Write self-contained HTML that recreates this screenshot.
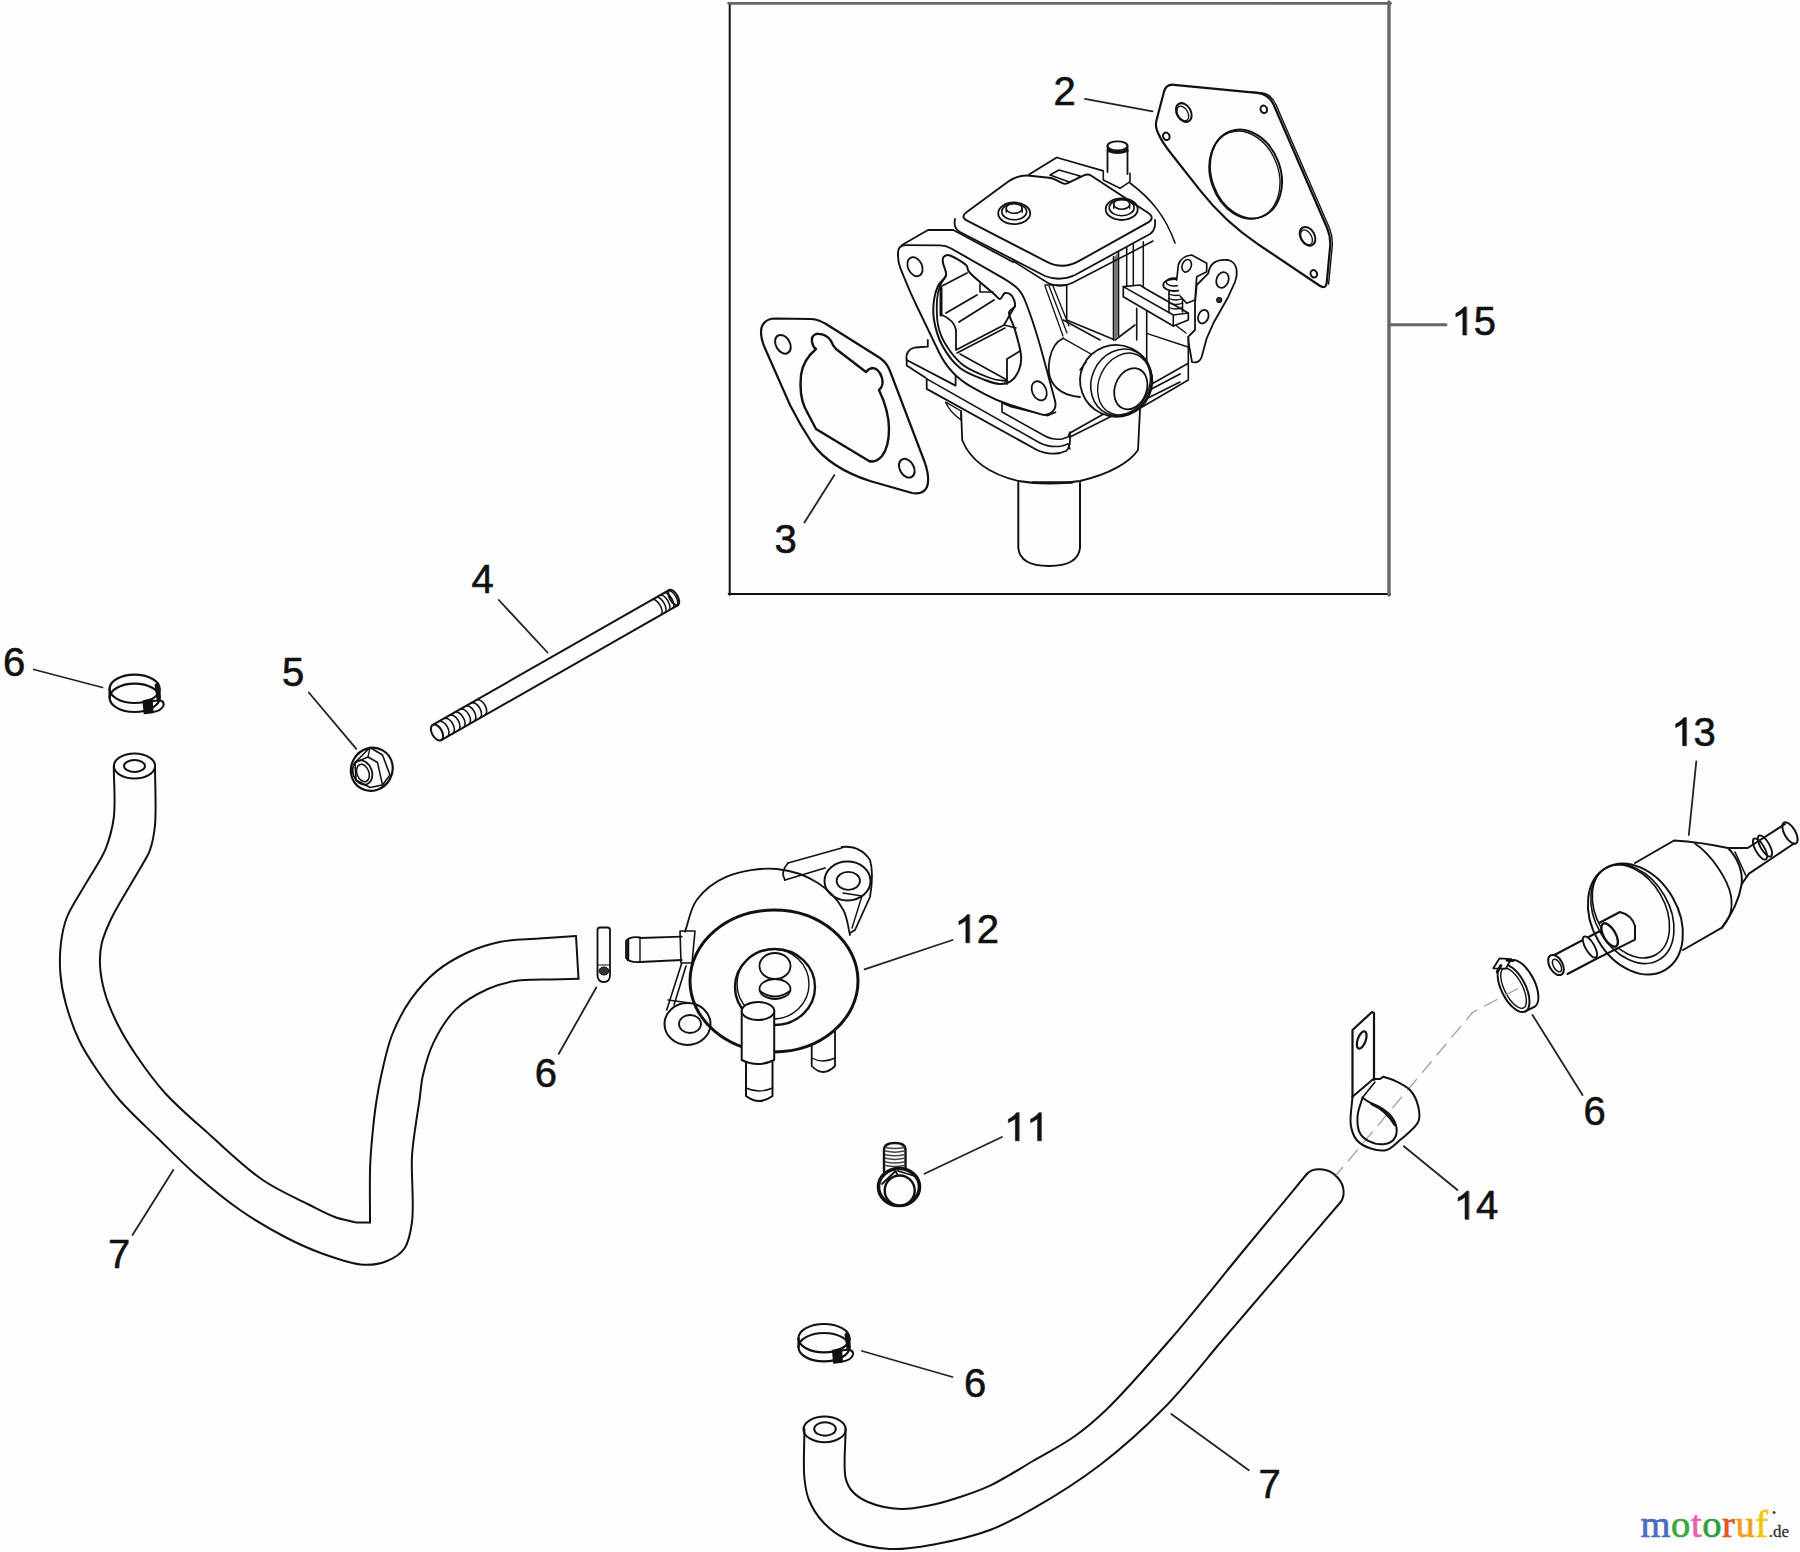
<!DOCTYPE html>
<html><head><meta charset="utf-8">
<style>
html,body{margin:0;padding:0;background:#fdfdfd;}
#c{position:relative;width:1800px;height:1552px;overflow:hidden;background:#fdfdfd;}
svg{position:absolute;left:0;top:0;}
.t{font-family:"Liberation Sans",sans-serif;font-size:40px;fill:#111;stroke:#111;stroke-width:0.6px;}
</style></head><body><div id="c">
<svg width="1800" height="1552" viewBox="0 0 1800 1552" stroke-linejoin="round" stroke-linecap="round">
<path d="M729.7,3 V594.8" stroke="#111" stroke-width="2" fill="none" />
<path d="M728.7,593.9 H1390" stroke="#111" stroke-width="2" fill="none" />
<path d="M728.7,3.3 H1390.5" stroke="#666" stroke-width="2.8" fill="none" />
<path d="M1389,2 V595" stroke="#666" stroke-width="3.4" fill="none" />
<path d="M1389,324.8 H1446" stroke="#666" stroke-width="3" fill="none" />
<path d="M1085.0,98.8 L1152.5,111.3" stroke="#222" stroke-width="1.8" fill="none" />
<path d="M834.4,475.1 L804.4,522.5" stroke="#222" stroke-width="1.8" fill="none" />
<path d="M498.8,600.0 L547.5,652.5" stroke="#222" stroke-width="1.8" fill="none" />
<path d="M308.8,692.5 L356.3,748.8" stroke="#222" stroke-width="1.8" fill="none" />
<path d="M33.8,669.5 L102.5,687.5" stroke="#222" stroke-width="1.8" fill="none" />
<path d="M132.5,1235.0 L173.3,1170.0" stroke="#222" stroke-width="1.8" fill="none" />
<path d="M596.3,987.5 L558.8,1053.8" stroke="#222" stroke-width="1.8" fill="none" />
<path d="M864.5,969.3 L952.5,940.0" stroke="#222" stroke-width="1.8" fill="none" />
<path d="M924.5,1173.8 L1002.0,1137.0" stroke="#222" stroke-width="1.8" fill="none" />
<path d="M1696.3,761.3 L1688.8,835.0" stroke="#222" stroke-width="1.8" fill="none" />
<path d="M1532.5,1015.0 L1582.5,1095.0" stroke="#222" stroke-width="1.8" fill="none" />
<path d="M1403.8,1146.3 L1457.5,1190.0" stroke="#222" stroke-width="1.8" fill="none" />
<path d="M862.0,1351.0 L952.5,1377.0" stroke="#222" stroke-width="1.8" fill="none" />
<path d="M1171.3,1414.0 L1248.8,1470.3" stroke="#222" stroke-width="1.8" fill="none" />
<path d="M113.8,766.0 C113.8,783.2 115.7,802.7 113.8,817.5 C112.3,829.1 108.9,840.3 106.0,848.0 C104.1,853.0 102.7,855.2 100.0,860.0 C95.7,867.8 87.7,880.2 82.0,890.0 C76.7,899.2 70.5,907.9 67.0,917.0 C63.7,925.4 62.1,933.7 61.0,942.6 C59.8,952.1 59.6,962.6 60.3,972.6 C61.0,982.6 62.7,992.2 65.5,1002.6 C68.7,1014.5 73.5,1028.5 79.0,1040.0 C84.1,1050.8 90.3,1060.1 97.0,1070.0 C104.0,1080.3 111.0,1090.1 120.0,1100.5 C130.6,1112.7 145.0,1125.7 157.6,1138.0 C170.0,1150.2 181.7,1162.3 195.0,1174.0 C209.0,1186.3 224.6,1199.3 240.0,1210.0 C254.7,1220.2 270.4,1229.4 285.0,1237.0 C297.9,1243.7 309.7,1249.1 322.7,1253.7 C335.9,1258.4 352.0,1264.1 363.8,1264.7 C372.6,1265.2 380.1,1263.8 387.0,1261.0 C393.6,1258.3 400.3,1254.4 404.4,1248.5 C409.1,1241.8 410.5,1233.0 412.0,1222.0 C414.4,1205.0 410.9,1173.9 412.0,1155.7 C412.8,1142.9 414.6,1132.9 416.0,1123.0 C417.1,1114.7 418.4,1107.8 419.5,1100.0 C420.7,1091.8 420.9,1083.8 423.0,1075.0 C425.4,1064.5 428.8,1052.1 434.1,1041.4 C439.6,1030.2 446.8,1018.2 455.8,1009.4 C464.7,1000.7 477.4,993.8 487.8,989.0 C496.5,985.0 503.8,982.9 513.3,981.3 C524.7,979.3 540.0,979.8 551.7,979.4 C561.4,979.1 569.6,979.0 578.5,978.8" stroke="#111" stroke-width="2" fill="none" />
<path d="M155.0,766.0 C155.0,785.7 156.5,809.6 155.0,825.0 C154.0,835.2 152.2,843.7 150.0,850.0 C148.6,854.2 147.2,855.9 145.0,860.0 C141.4,866.6 135.3,876.3 130.0,885.5 C123.9,896.1 115.5,909.4 110.6,920.0 C106.6,928.6 103.3,936.1 101.6,944.0 C100.0,951.1 99.7,957.6 100.0,965.0 C100.4,973.5 102.0,982.7 104.6,992.0 C107.6,1002.6 112.7,1014.5 118.0,1025.0 C123.2,1035.4 129.0,1044.6 136.0,1055.0 C144.2,1067.1 153.7,1080.5 165.0,1093.0 C177.9,1107.2 194.2,1120.9 210.0,1135.0 C226.7,1149.9 245.2,1168.1 262.7,1180.0 C277.7,1190.2 294.5,1197.3 307.7,1204.0 C317.8,1209.1 326.2,1213.9 334.8,1217.0 C342.1,1219.7 348.7,1220.6 355.7,1222.4 L370,1222.4" stroke="#111" stroke-width="2" fill="none" />
<path d="M370.0,1222.4 C370.1,1203.3 369.5,1181.9 370.2,1165.0 C370.7,1151.6 371.9,1140.3 373.0,1129.0 C374.0,1118.8 375.1,1109.4 376.6,1100.0 C378.0,1090.9 379.5,1083.0 381.7,1073.3 C384.4,1061.6 387.2,1047.3 392.0,1035.0 C396.9,1022.6 403.4,1010.0 411.0,999.2 C418.4,988.8 427.0,979.0 436.7,971.1 C446.3,963.3 457.7,957.0 468.6,952.0 C479.0,947.3 489.3,944.0 500.6,941.7 C512.7,939.3 526.2,939.5 538.9,938.5 C551.4,937.6 563.6,936.8 576.0,936.0" stroke="#111" stroke-width="2" fill="none" />
<path d="M576.0,936.0 L578.5,978.8" stroke="#111" stroke-width="2" fill="none" />
<ellipse cx="134.5" cy="766" rx="20.6" ry="12.5" stroke="#111" stroke-width="2" fill="none"/>
<ellipse cx="134.5" cy="766" rx="10.5" ry="6" stroke="#111" stroke-width="2" fill="none"/>
<path d="M804.4,1429.0 C804.4,1445.3 803.1,1464.9 804.4,1478.0 C805.3,1486.8 806.1,1492.9 809.0,1500.0 C812.1,1507.6 817.0,1515.6 823.0,1522.0 C829.2,1528.7 836.6,1534.7 846.0,1539.0 C857.9,1544.4 875.3,1548.1 890.0,1549.0 C904.6,1549.9 918.6,1547.2 934.0,1544.4 C951.7,1541.2 972.9,1536.4 990.0,1530.0 C1005.6,1524.2 1017.4,1517.6 1033.0,1508.7 C1053.2,1497.2 1078.5,1481.4 1100.0,1465.0 C1122.2,1448.0 1143.9,1428.5 1164.0,1408.0 C1184.5,1387.2 1205.9,1359.4 1221.7,1341.0 C1232.8,1328.1 1237.9,1322.1 1250.0,1308.0 C1271.7,1282.7 1310.5,1237.3 1340.7,1202.0" stroke="#111" stroke-width="2" fill="none" />
<path d="M845.6,1429.0 C845.6,1445.3 843.1,1467.1 845.6,1478.0 C847.0,1483.9 848.7,1487.2 852.0,1491.0 C855.8,1495.4 861.4,1499.2 868.0,1502.0 C876.7,1505.8 890.4,1508.5 901.0,1509.0 C910.7,1509.4 919.7,1507.4 929.0,1505.6 C938.4,1503.8 947.4,1501.1 957.0,1498.0 C967.6,1494.6 978.5,1491.0 990.0,1485.6 C1003.6,1479.2 1018.8,1469.3 1033.0,1461.0 C1047.1,1452.8 1062.4,1445.0 1075.0,1436.0 C1086.5,1427.9 1094.3,1421.2 1106.0,1410.0 C1123.8,1392.9 1147.4,1365.9 1169.0,1341.0 C1193.3,1313.0 1220.1,1279.0 1244.0,1250.0 C1265.9,1223.5 1285.9,1199.3 1306.8,1174.0" stroke="#111" stroke-width="2" fill="none" />
<path d="M1306.8,1174 C1312,1168 1328,1166 1338,1178 C1345,1186 1345,1196 1340.7,1202" stroke="#111" stroke-width="2" fill="none" />
<ellipse cx="824.6" cy="1429.4" rx="21.1" ry="12.8" stroke="#111" stroke-width="2" fill="none"/>
<ellipse cx="825" cy="1429" rx="10.8" ry="6.7" stroke="#111" stroke-width="2" fill="none"/>
<ellipse cx="134.6" cy="688.8" rx="25" ry="14.2" stroke="#111" stroke-width="2.2" fill="none"/>
<ellipse cx="134.6" cy="697.8" rx="25" ry="14.2" stroke="#111" stroke-width="2.2" fill="none"/>
<path d="M109.6,688.8 L109.6,697.8 M159.6,688.8 L159.6,697.8" stroke="#111" stroke-width="2.2" fill="none" />
<path d="M156.6,685.3 L158.6,699.3" stroke="#111" stroke-width="4" fill="none" />
<path d="M143.6,701.3 L151.6,699.3 L152.6,712.3 L144.6,713.3 Z" stroke="#111" stroke-width="2" fill="#111" />
<path d="M151.6,701.3 Q164.6,698.3 163.6,705.3 Q161.6,711.3 151.6,712.3" stroke="#111" stroke-width="2" fill="none" />
<ellipse cx="824" cy="1338.2" rx="25.5" ry="14.2" stroke="#111" stroke-width="2.2" fill="none"/>
<ellipse cx="824" cy="1347.2" rx="25.5" ry="14.2" stroke="#111" stroke-width="2.2" fill="none"/>
<path d="M798.5,1338.2 L798.5,1347.2 M849.5,1338.2 L849.5,1347.2" stroke="#111" stroke-width="2.2" fill="none" />
<path d="M846.5,1334.7 L848.5,1348.7" stroke="#111" stroke-width="4" fill="none" />
<path d="M833,1350.7 L841,1348.7 L842,1361.7 L834,1362.7 Z" stroke="#111" stroke-width="2" fill="#111" />
<path d="M841,1350.7 Q854,1347.7 853,1354.7 Q851,1360.7 841,1361.7" stroke="#111" stroke-width="2" fill="none" />
<g transform="translate(1518,986) rotate(-27)" fill="none" stroke="#111" stroke-width="2"><ellipse cx="-5" cy="0" rx="12" ry="26" fill="#fdfdfd"/><path d="M-5,-26 L5,-26 M-5,26 L5,26"/><path d="M5,-26 A12,26 0 0 1 5,26"/><ellipse cx="-5" cy="0" rx="9" ry="22" stroke-width="1.4"/><path d="M-14,-27 L-4,-33 L6,-27 L-3,-21 Z" stroke-width="1.8" fill="#fdfdfd"/><path d="M-12,-22 L-6,-26 M2,-28 L7,-25" stroke-width="3"/></g>
<path d="M1517.5,988.8 L1472.5,1012.5 L1336.3,1175" stroke="#999" stroke-width="1.2" fill="none" stroke-dasharray="14,9"/>
<path d="M432.7,724.9 L669.4,589.9" stroke="#111" stroke-width="2" fill="none" />
<path d="M441.3,740.1 L678.1,605.1" stroke="#111" stroke-width="2" fill="none" />
<ellipse cx="437" cy="732.5" rx="5" ry="8.7" stroke="#111" stroke-width="2" fill="none" transform="rotate(-29.8 437 732.5)"/>
<path d="M438.8,721.5 A5,8.7 -29.8 0 1 447.4,736.6" stroke="#111" stroke-width="1.6" fill="none" />
<path d="M444.2,718.4 A5,8.7 -29.8 0 1 452.8,733.5" stroke="#111" stroke-width="1.6" fill="none" />
<path d="M449.5,715.3 A5,8.7 -29.8 0 1 458.2,730.4" stroke="#111" stroke-width="1.6" fill="none" />
<path d="M454.9,712.3 A5,8.7 -29.8 0 1 463.5,727.4" stroke="#111" stroke-width="1.6" fill="none" />
<path d="M460.3,709.2 A5,8.7 -29.8 0 1 468.9,724.3" stroke="#111" stroke-width="1.6" fill="none" />
<path d="M465.7,706.1 A5,8.7 -29.8 0 1 474.3,721.2" stroke="#111" stroke-width="1.6" fill="none" />
<path d="M471.1,703.0 A5,8.7 -29.8 0 1 479.7,718.2" stroke="#111" stroke-width="1.6" fill="none" />
<path d="M476.5,700.0 A5,8.7 -29.8 0 1 485.1,715.1" stroke="#111" stroke-width="1.6" fill="none" />
<path d="M652.5,599.6 A4,8.7 -29.8 0 1 661.1,614.7" stroke="#111" stroke-width="1.5" fill="none" />
<path d="M656.4,597.4 A4,8.7 -29.8 0 1 665.0,612.5" stroke="#111" stroke-width="1.5" fill="none" />
<path d="M660.3,595.2 A4,8.7 -29.8 0 1 668.9,610.3" stroke="#111" stroke-width="1.5" fill="none" />
<path d="M664.2,592.9 A4,8.7 -29.8 0 1 672.8,608.0" stroke="#111" stroke-width="1.5" fill="none" />
<path d="M668.1,590.7 A4,8.7 -29.8 0 1 676.7,605.8" stroke="#111" stroke-width="1.5" fill="none" />
<ellipse cx="673.75" cy="597.5" rx="4" ry="8.7" stroke="#111" stroke-width="2" fill="none" transform="rotate(-29.8 673.75 597.5)"/>
<ellipse cx="371.8" cy="769.3" rx="20.6" ry="21.9" stroke="#111" stroke-width="2.2" fill="none" transform="rotate(30 371.8 769.3)"/>
<path d="M370.0,747.5 L382.5,755.0 L390.0,775.0 L382.5,785.0 L370.0,787.5 L356.0,780.0 L355.0,762.5 Z" stroke="#111" stroke-width="1.6" fill="none" />
<path d="M355.0,762.5 L368.0,757.0 L377.5,762.5 L382.5,785.0" stroke="#111" stroke-width="1.5" fill="none" />
<path d="M368.0,757.0 L370.0,747.5" stroke="#111" stroke-width="1.3" fill="none" />
<ellipse cx="362.5" cy="772.5" rx="9.4" ry="12.5" stroke="#111" stroke-width="1.8" fill="none" transform="rotate(-20 362.5 772.5)"/>
<ellipse cx="363" cy="773" rx="6" ry="9" stroke="#111" stroke-width="1.5" fill="none" transform="rotate(-20 363 773)"/>
<path d="M884,1172 L884,1150 Q884,1143 895,1143 Q905.5,1143 905.5,1150 L905.5,1172" stroke="#111" stroke-width="2.4" fill="none" />
<path d="M885.5,1147.5 Q895,1149.7 904,1147.5" stroke="#444" stroke-width="1.5" fill="none" />
<path d="M885.5,1151.1 Q895,1153.3 904,1151.1" stroke="#444" stroke-width="1.5" fill="none" />
<path d="M885.5,1154.7 Q895,1156.9 904,1154.7" stroke="#444" stroke-width="1.5" fill="none" />
<path d="M885.5,1158.3 Q895,1160.5 904,1158.3" stroke="#444" stroke-width="1.5" fill="none" />
<path d="M885.5,1161.9 Q895,1164.1 904,1161.9" stroke="#444" stroke-width="1.5" fill="none" />
<path d="M885.5,1165.5 Q895,1167.7 904,1165.5" stroke="#444" stroke-width="1.5" fill="none" />
<ellipse cx="899" cy="1187" rx="20.5" ry="18.5" stroke="#111" stroke-width="3.6" fill="#fdfdfd"/>
<ellipse cx="899.7" cy="1190.5" rx="15" ry="15" stroke="#111" stroke-width="2.4" fill="#fdfdfd"/>
<path d="M882,1184 L895.6,1171 L898,1176 M898,1171 L913,1175.5" stroke="#111" stroke-width="1.8" fill="none" />
<path d="M597.5,930 Q597.5,927.5 600,927.5 L607.5,927.5 Q610,927.5 610,930 L610,975 Q610,982 604,982 Q597.5,982 597.5,975 Z" stroke="#111" stroke-width="1.8" fill="none" />
<ellipse cx="604" cy="971" rx="5" ry="4" stroke="#111" stroke-width="1" fill="#333"/>
<path d="M598,965 L610,965" stroke="#111" stroke-width="1.2" fill="none" />
<path d="M685.0,931.7 C688.9,921.1 690.1,909.0 696.7,900.0 C703.7,890.5 714.6,881.9 726.7,876.7 C740.6,870.7 761.0,867.6 776.7,869.0 C791.4,870.3 806.9,875.9 818.3,883.3 C828.7,890.0 838.1,900.6 843.3,910.0 C847.7,917.9 847.8,926.7 850.0,935.0" stroke="#111" stroke-width="1.8" fill="none" />
<ellipse cx="774" cy="981" rx="84" ry="71" stroke="#111" stroke-width="3" fill="none"/>
<ellipse cx="775" cy="987" rx="40" ry="38" stroke="#111" stroke-width="2.4" fill="none"/>
<ellipse cx="773" cy="984" rx="36" ry="35" stroke="#111" stroke-width="1.4" fill="none"/>
<ellipse cx="775" cy="966" rx="15.5" ry="13" stroke="#111" stroke-width="1.8" fill="none"/>
<ellipse cx="775" cy="989" rx="15.5" ry="10" stroke="#111" stroke-width="1.8" fill="none"/>
<path d="M760,991 Q775,1002 790,991" stroke="#111" stroke-width="2" fill="none" />
<path d="M741.7,1011 L741.7,1060 Q758,1068 774.2,1060 L774.2,1011" stroke="#111" stroke-width="2" fill="#fdfdfd" />
<ellipse cx="758" cy="1011" rx="16.3" ry="9" stroke="#111" stroke-width="2" fill="#fdfdfd"/>
<path d="M746,1062 L746,1096 Q759,1106 772.5,1096 L772.5,1062" stroke="#111" stroke-width="2" fill="none" />
<path d="M746,1088 Q759,1094 772.5,1088" stroke="#111" stroke-width="1.4" fill="none" />
<path d="M811.7,1045 L811.7,1066 Q823,1078 835,1066 L835,1031" stroke="#111" stroke-width="1.8" fill="none" />
<path d="M811.7,1058 Q823,1064 835,1058" stroke="#111" stroke-width="1.4" fill="none" />
<path d="M626,941 L626,958 Q630,963 640,962 L681.7,960 M640,938 L681.7,936.7 M626,941 Q630,936 640,937.5" stroke="#111" stroke-width="1.8" fill="none" />
<path d="M640,937.5 L640,962" stroke="#111" stroke-width="1.4" fill="none" />
<path d="M628,940 L628,960" stroke="#111" stroke-width="2.5" fill="none" />
<path d="M680,931 L695,931 L692,963 L681,963 Z" stroke="#111" stroke-width="1.6" fill="none" />
<ellipse cx="847.5" cy="881" rx="23" ry="19.5" stroke="#111" stroke-width="2" fill="none"/>
<ellipse cx="848.3" cy="880.8" rx="11.7" ry="9" stroke="#111" stroke-width="1.8" fill="none"/>
<path d="M788,863 L841.7,848 M785,880 L825,868" stroke="#111" stroke-width="1.8" fill="none" />
<path d="M788,863 Q780,872 785,880" stroke="#111" stroke-width="1.8" fill="none" />
<path d="M841.7,847 Q860,845 870,860 Q874,873 870,897 L855,930 L850,933" stroke="#111" stroke-width="1.8" fill="none" />
<path d="M843,893 L862,896 L852,928" stroke="#111" stroke-width="1.4" fill="none" />
<ellipse cx="687.5" cy="1024" rx="23" ry="21" stroke="#111" stroke-width="2" fill="none"/>
<ellipse cx="690" cy="1024" rx="11" ry="9" stroke="#111" stroke-width="1.8" fill="none"/>
<path d="M666.7,1010 L681.7,963.3 M674,1005 L686,966" stroke="#111" stroke-width="1.6" fill="none" />
<path d="M668,1000 L690,1003" stroke="#111" stroke-width="1.4" fill="none" />
<path d="M1635,863 L1674,840.5 Q1700,842 1728,848 C1738,858 1743,872 1741.7,884 C1739,900 1733,912 1722,927.6 L1683,950" stroke="#111" stroke-width="2" fill="none" />
<path d="M1695,843.5 C1712,855 1728,880 1731,896 C1733,910 1730,918 1722,927.6" stroke="#111" stroke-width="1.8" fill="none" />
<path d="M1728,848 L1747.7,848 L1785,824 M1741.7,884 L1749,873.6 L1794,843.5" stroke="#111" stroke-width="2" fill="none" />
<path d="M1735,852 L1746,876" stroke="#111" stroke-width="1.6" fill="none" />
<ellipse cx="1760" cy="849" rx="4.5" ry="12" stroke="#111" stroke-width="1.8" fill="none" transform="rotate(-30 1760 849)"/>
<ellipse cx="1765" cy="846" rx="4.5" ry="12" stroke="#111" stroke-width="1.8" fill="none" transform="rotate(-30 1765 846)"/>
<ellipse cx="1790" cy="833" rx="5.5" ry="12" stroke="#111" stroke-width="2" fill="none" transform="rotate(-30 1790 833)"/>
<ellipse cx="1635.4" cy="919" rx="59" ry="43" stroke="#111" stroke-width="2" fill="#fdfdfd" transform="rotate(60 1635.4 919)"/>
<ellipse cx="1632.4" cy="914" rx="53" ry="37" stroke="#111" stroke-width="1.6" fill="none" transform="rotate(60 1632.4 914)"/>
<ellipse cx="1630.9" cy="911.4" rx="50" ry="34" stroke="#111" stroke-width="1.6" fill="none" transform="rotate(60 1630.9 911.4)"/>
<path d="M1599,923 L1620,912 Q1632,915 1635,926 L1635,939.6 L1617,948.6" stroke="#111" stroke-width="2" fill="#fdfdfd" />
<ellipse cx="1609.6" cy="935" rx="6" ry="13" stroke="#111" stroke-width="2.4" fill="#fdfdfd" transform="rotate(-30 1609.6 935)"/>
<path d="M1581,941 L1600,931 M1596,959 L1617,948.6" stroke="#111" stroke-width="2" fill="none" />
<ellipse cx="1590" cy="947" rx="4.5" ry="12" stroke="#111" stroke-width="1.8" fill="#fdfdfd" transform="rotate(-30 1590 947)"/>
<path d="M1552.5,956 L1581,941 M1567.5,974 L1596,959" stroke="#111" stroke-width="2" fill="none" />
<ellipse cx="1556" cy="965" rx="6.5" ry="11" stroke="#111" stroke-width="2" fill="#fdfdfd" transform="rotate(-30 1556 965)"/>
<ellipse cx="1557" cy="965.5" rx="3.5" ry="7" stroke="#111" stroke-width="1.5" fill="none" transform="rotate(-30 1557 965.5)"/>
<path d="M1352.5,1096.7 L1352.5,1030 L1372,1012 L1374,1013 L1374,1080" stroke="#111" stroke-width="2.2" fill="none" />
<ellipse cx="1361.7" cy="1040" rx="4" ry="9" stroke="#111" stroke-width="2.2" fill="none" transform="rotate(20 1361.7 1040)"/>
<path d="M1352.5,1096.7 C1351.9,1106.1 1349.6,1117.2 1350.8,1125.0 C1351.7,1130.9 1353.5,1136.1 1356.7,1140.0 C1359.9,1143.8 1365.1,1146.6 1370.0,1148.3 C1375.1,1150.0 1381.7,1151.4 1386.7,1150.0 C1391.7,1148.6 1395.4,1144.0 1400.0,1140.0 C1405.8,1135.0 1415.7,1128.1 1418.3,1121.7 C1420.3,1116.9 1419.5,1111.7 1418.3,1106.7 C1417.0,1101.1 1414.1,1094.4 1410.0,1090.0 C1405.8,1085.5 1398.3,1082.3 1393.3,1080.0 C1389.6,1078.3 1386.6,1077.8 1383.3,1076.7" stroke="#111" stroke-width="2" fill="none" />
<path d="M1383.3,1076.7 L1380,1079 L1373.3,1079 L1352.5,1096.7" stroke="#111" stroke-width="2" fill="none" />
<path d="M1362.5,1097.5 C1360.8,1103.9 1357.8,1110.5 1357.5,1116.7 C1357.2,1122.4 1357.8,1129.1 1360.0,1133.3 C1361.8,1136.7 1364.8,1139.0 1368.3,1140.8 C1372.4,1142.9 1378.9,1144.6 1383.3,1144.2 C1387.0,1143.9 1391.1,1142.4 1393.3,1140.0 C1395.5,1137.6 1396.8,1133.6 1396.7,1130.0 C1396.6,1125.9 1394.3,1120.4 1391.7,1116.7 C1389.2,1113.2 1385.4,1110.7 1381.7,1108.3 C1377.7,1105.7 1371.8,1103.8 1368.3,1101.7 C1365.9,1100.2 1364.4,1098.9 1362.5,1097.5" stroke="#111" stroke-width="2" fill="none" />
<path d="M1362.5,1097.5 L1375,1082" stroke="#111" stroke-width="1.6" fill="none" />
<path d="M1371.7,1104 Q1386,1110 1395,1125" stroke="#111" stroke-width="2.6" fill="none" />
<path d="M1174.0,84.8 L1257.1,92.8 Q1269.0,94.0 1273.8,105.0 L1327.0,227.8 Q1331.0,237.0 1330.1,247.0 L1326.8,282.0 Q1326.0,290.0 1319.4,285.5 L1258.2,244.3 Q1225.0,222.0 1200.3,190.6 L1170.7,153.0 Q1162.0,142.0 1158.5,134.0 L1157.4,131.5 Q1155.0,126.0 1156.5,120.2 L1164.0,91.7 Q1166.0,84.0 1174.0,84.8 Z" stroke="#111" stroke-width="2.2" fill="none" />
<ellipse cx="1246" cy="174" rx="34.5" ry="45.6" stroke="#111" stroke-width="2" fill="none" transform="rotate(-20 1246 174)"/>
<ellipse cx="1244.5" cy="175" rx="34" ry="45" stroke="#111" stroke-width="1.4" fill="none" transform="rotate(-20 1244.5 175)"/>
<path d="M1250.0,92.0 L1260.5,92.8 Q1271.1,93.5 1275.9,104.5 L1329.1,227.3 Q1333.1,236.5 1332.2,246.5 L1328.6,284.0 Q1328.6,284.0 1328.6,284.0" stroke="#111" stroke-width="1.4" fill="none" />
<ellipse cx="1183.8" cy="112.5" rx="7" ry="10" stroke="#111" stroke-width="2" fill="none" transform="rotate(-30 1183.8 112.5)"/>
<ellipse cx="1307.5" cy="236.3" rx="7" ry="10" stroke="#111" stroke-width="2" fill="none" transform="rotate(-30 1307.5 236.3)"/>
<ellipse cx="1182.8" cy="113.5" rx="5" ry="8" stroke="#111" stroke-width="1.3" fill="none" transform="rotate(-30 1182.8 113.5)"/>
<ellipse cx="1306.5" cy="237.3" rx="5" ry="8" stroke="#111" stroke-width="1.3" fill="none" transform="rotate(-30 1306.5 237.3)"/>
<ellipse cx="1263.8" cy="109.3" rx="3.2" ry="3.8" stroke="#111" stroke-width="2" fill="none" transform="rotate(-20 1263.8 109.3)"/>
<ellipse cx="1166.3" cy="136.3" rx="3.2" ry="3.8" stroke="#111" stroke-width="2" fill="none" transform="rotate(-20 1166.3 136.3)"/>
<ellipse cx="1313.8" cy="273.8" rx="3.2" ry="3.8" stroke="#111" stroke-width="2" fill="none" transform="rotate(-20 1313.8 273.8)"/>
<path d="M775,318.5 L810,319 Q818,319 826,324 L880,358 Q887,363 890,371 L925,463 Q930,478 927,487 Q923,495 912,493 L870,481 Q830,468 812,443 Q800,425 790,405 L764,346 Q758,330 764,323 Q768,318.5 775,318.5 Z" stroke="#111" stroke-width="2.2" fill="none" />
<path d="M816,334 Q811,336 812,342 Q813,347 816,349 Q803,360 801,375 Q799,395 805,408 L816,429 L869,461 Q876,463 882,456 Q889,447 889,429 Q889,411 879,390 Q884,386 882,378 Q879,368 872,368 Q868,369 866,372 L836,349 Q833,346 831,341 Q826,333 816,334 Z" stroke="#111" stroke-width="2.4" fill="none" />
<ellipse cx="782.9" cy="344.3" rx="7" ry="10" stroke="#111" stroke-width="2" fill="none" transform="rotate(-30 782.9 344.3)"/>
<ellipse cx="906.8" cy="468.2" rx="7" ry="10" stroke="#111" stroke-width="2" fill="none" transform="rotate(-30 906.8 468.2)"/>
<text x="1640.5" y="1537" style="font-family:'Liberation Serif',serif;font-size:38.5px;letter-spacing:0.6px;stroke-width:0.7px"><tspan fill="#4a6cc0" stroke="#4a6cc0">m</tspan><tspan fill="#3aa83a" stroke="#3aa83a">o</tspan><tspan fill="#e860a8" stroke="#e860a8">t</tspan><tspan fill="#2ea040" stroke="#2ea040">o</tspan><tspan fill="#e8501e" stroke="#e8501e">r</tspan><tspan fill="#f0a018" stroke="#f0a018">u</tspan><tspan fill="#f0c800" stroke="#f0c800">f</tspan><tspan fill="#333" stroke="#333" style="font-size:17px;letter-spacing:0;stroke-width:0.3px">.de</tspan></text>
<ellipse cx="1774" cy="1512.5" rx="1.2" ry="1.2" stroke="#555" stroke-width="0.8" fill="#555"/>
<path d="M1029,174.5 L1056.7,157.5 L1103.3,170.8" stroke="#111" stroke-width="1.8" fill="none" />
<path d="M1050,175 L1059,170 L1080,176 L1072,183 Z" stroke="#111" stroke-width="1.6" fill="none" />
<path d="M1130,183 C1150,198 1165,215 1175,243" stroke="#111" stroke-width="1.6" fill="none" />
<path d="M1107.5,146 L1107.5,172 M1127.5,146 L1127.5,174" stroke="#111" stroke-width="1.8" fill="none" />
<ellipse cx="1117.5" cy="145.8" rx="10" ry="4.5" stroke="#111" stroke-width="1.8" fill="none"/>
<path d="M1108.5,150.5 Q1117.5,154.5 1127,150.5" stroke="#111" stroke-width="3.2" fill="none" />
<path d="M1103.3,171.7 L1103.3,180 L1120,188.3 L1130,181.7 L1130,173.3" stroke="#111" stroke-width="1.6" fill="none" />
<path d="M1018.3,483 L1018.3,548 Q1020,566 1049,566 Q1078,566 1080,548 L1080,483" stroke="#111" stroke-width="2" fill="none" />
<path d="M961.1,411 L962.2,440 C970,460 990,474 1018,481 Q1049,486 1080,481 C1110,474 1130,462 1138,450 L1140,410" stroke="#111" stroke-width="1.8" fill="none" />
<path d="M945.6,402.2 L961.1,411 L961,420 Q950,412 945.6,402.2 Z" stroke="#111" stroke-width="1.4" fill="none" />
<path d="M1033,482.5 L1072,482.5" stroke="#111" stroke-width="2.4" fill="none" />
<path d="M906.7,360 Q905,350 915,347.5 L927.8,346.7 L927.8,340" stroke="#111" stroke-width="1.8" fill="none" />
<path d="M906.7,360 L906.7,365.6 L925.6,377.8" stroke="#111" stroke-width="1.8" fill="none" />
<path d="M906.7,360 L955.6,385.6 L955.6,375" stroke="#111" stroke-width="1.8" fill="none" />
<path d="M926.7,378.9 L926.7,388.9 L1037,450 Q1047,455 1060,453 L1066,451 Q1070,448 1070,440 L1070,433 L1100,416 L1180,374" stroke="#111" stroke-width="1.8" fill="none" />
<path d="M926.7,378.9 L1040,443 Q1050,448 1062,446 L1068,444" stroke="#111" stroke-width="1.6" fill="none" />
<path d="M1002,403 L1002,412 L1045,436 Q1052,440 1062,439 L1068,437 L1070,432" stroke="#111" stroke-width="1.6" fill="none" />
<path d="M1002,403 L1011,406.7 L1047.8,415.6 L1055.6,412.2" stroke="#111" stroke-width="1.6" fill="none" />
<path d="M1070,437 L1180,382" stroke="#111" stroke-width="1.6" fill="none" />
<path d="M1068,444 L1070,449" stroke="#111" stroke-width="1.4" fill="none" />
<path d="M1063.3,320 L1100,340" stroke="#111" stroke-width="1.6" fill="none" />
<path d="M1063.3,338.3 C1048,345 1046,372 1052,382 C1058,392 1068,396 1080,397" stroke="#111" stroke-width="1.8" fill="none" />
<path d="M1063.3,338.3 L1098,358" stroke="#111" stroke-width="1.4" fill="none" />
<path d="M1045,286 L1063,336 M1049,286 L1067,333 M1053,286 L1069,326" stroke="#111" stroke-width="1.3" fill="none" />
<path d="M1045,285 L1066.7,285 L1066.7,320 L1115,340 L1135,325" stroke="#111" stroke-width="1.6" fill="none" />
<path d="M1113.5,256.7 L1113.5,340 M1118.5,252 L1118.5,336" stroke="#111" stroke-width="1.6" fill="none" />
<path d="M1114,257 L1118,253 L1118,336 L1114,340 Z" stroke="#111" stroke-width="0" fill="#777" />
<path d="M1126.7,245 L1126.7,288 M1133.3,243 L1133.3,288 M1143.3,241.7 L1143.3,287" stroke="#111" stroke-width="1.5" fill="none" />
<path d="M1136.7,308.3 L1136.7,340 M1146.7,306 L1146.7,396.7" stroke="#111" stroke-width="1.6" fill="none" />
<path d="M1188.3,336.7 L1188.3,380 L1140,408.3 M1188.3,363.3 L1150,385" stroke="#111" stroke-width="1.6" fill="none" />
<path d="M1146.7,333.3 L1188,347 M1150,306 L1186,333" stroke="#111" stroke-width="1.4" fill="none" />
<path d="M1140,410 L1140,408.3" stroke="#111" stroke-width="1.4" fill="none" />
<path d="M1123.3,286.7 L1123.3,296.7 L1173.3,326 L1188.3,320 L1188.3,313 L1146,289 L1140,285 Z" stroke="#111" stroke-width="1.7" fill="#fdfdfd" />
<path d="M1123.3,286.7 L1173.3,315 L1188.3,313 M1173.3,315 L1173.3,326" stroke="#111" stroke-width="1.5" fill="none" />
<path d="M1169,290 L1169,312 M1182.5,290 L1182.5,312" stroke="#111" stroke-width="1.6" fill="none" />
<path d="M1169,294.0 Q1176,297.0 1182.5,294.0" stroke="#111" stroke-width="1.3" fill="none" />
<path d="M1169,298.5 Q1176,301.5 1182.5,298.5" stroke="#111" stroke-width="1.3" fill="none" />
<path d="M1169,303.0 Q1176,306.0 1182.5,303.0" stroke="#111" stroke-width="1.3" fill="none" />
<path d="M1169,307.5 Q1176,310.5 1182.5,307.5" stroke="#111" stroke-width="1.3" fill="none" />
<ellipse cx="1174.2" cy="285" rx="11" ry="6" stroke="#111" stroke-width="1.8" fill="#fdfdfd"/>
<ellipse cx="1174.2" cy="282" rx="8" ry="4" stroke="#111" stroke-width="1.5" fill="none"/>
<path d="M1208.3,273.3 C1210,262 1218,259 1228,260 C1236,262 1239,270 1235,282 L1228.3,296.7 L1213.3,323.3 L1206.7,338.3 L1201.7,356.7 Q1199,364 1192,362 L1189,345 L1188.3,336.7 L1195,330 L1195,303 L1196.7,285 Z" stroke="#111" stroke-width="1.8" fill="#fdfdfd" />
<ellipse cx="1222.5" cy="280" rx="6" ry="8" stroke="#111" stroke-width="1.8" fill="none" transform="rotate(20 1222.5 280)"/>
<ellipse cx="1203.3" cy="316.7" rx="5" ry="7" stroke="#111" stroke-width="1.8" fill="none" transform="rotate(20 1203.3 316.7)"/>
<ellipse cx="1219.2" cy="300" rx="2.5" ry="2.5" stroke="#111" stroke-width="1.2" fill="#333"/>
<path d="M1176.7,280 L1178.3,265 Q1181,256 1191.7,255 L1206.7,263.3 L1206.7,271.7 L1196.7,276.7 L1195,300 L1186.7,303.3 L1180,296" stroke="#111" stroke-width="1.7" fill="#fdfdfd" />
<ellipse cx="1186.7" cy="265.8" rx="4.5" ry="6.5" stroke="#111" stroke-width="1.6" fill="none" transform="rotate(20 1186.7 265.8)"/>
<ellipse cx="1116.2" cy="380.8" rx="36.2" ry="35.8" stroke="#111" stroke-width="1.8" fill="#fdfdfd" transform="rotate(25 1116.2 380.8)"/>
<ellipse cx="1121.2" cy="382.5" rx="29.6" ry="34.2" stroke="#111" stroke-width="1.6" fill="none" transform="rotate(25 1121.2 382.5)"/>
<ellipse cx="1124" cy="384" rx="25" ry="32" stroke="#111" stroke-width="1.4" fill="none" transform="rotate(25 1124 384)"/>
<ellipse cx="1130.8" cy="388.7" rx="15.8" ry="21.2" stroke="#111" stroke-width="1.8" fill="none" transform="rotate(21 1130.8 388.7)"/>
<path d="M1080,370 L1086,362" stroke="#111" stroke-width="1.4" fill="none" />
<path d="M955,219 Q953,228 960,232 L1045,276 Q1060,282 1075,275 L1150,234 Q1156,230 1155,220" stroke="#111" stroke-width="1.8" fill="#fdfdfd" />
<path d="M1013,261 L1048,283 Q1060,289 1072,283 L1153,241" stroke="#111" stroke-width="1.6" fill="none" />
<path d="M966.5,212.3 L1008.3,181.6 Q1018.0,174.5 1029.9,175.7 L1049.0,177.7 Q1052.0,178.0 1054.7,179.3 L1062.3,183.2 Q1065.0,184.5 1067.7,183.2 L1084.4,175.2 Q1088.0,173.5 1091.3,175.7 L1147.6,212.5 Q1156.0,218.0 1147.3,222.9 L1078.7,261.2 Q1063.0,270.0 1047.0,261.8 L967.1,220.7 Q960.0,217.0 966.5,212.3 Z" stroke="#111" stroke-width="1.9" fill="#fdfdfd" />
<ellipse cx="1014.2" cy="213.3" rx="16" ry="10.8" stroke="#111" stroke-width="1.8" fill="none"/>
<ellipse cx="1014.2" cy="211.8" rx="12.5" ry="8" stroke="#111" stroke-width="1.6" fill="none"/>
<ellipse cx="1014.2" cy="208.3" rx="8" ry="5" stroke="#111" stroke-width="1.6" fill="none"/>
<path d="M1006.2,208.3 L1006.2,212.3 M1022.2,208.3 L1022.2,212.3" stroke="#111" stroke-width="1.4" fill="none" />
<ellipse cx="1121.7" cy="209.2" rx="16" ry="10.8" stroke="#111" stroke-width="1.8" fill="none"/>
<ellipse cx="1121.7" cy="207.7" rx="12.5" ry="8" stroke="#111" stroke-width="1.6" fill="none"/>
<ellipse cx="1121.7" cy="204.2" rx="8" ry="5" stroke="#111" stroke-width="1.6" fill="none"/>
<path d="M1113.7,204.2 L1113.7,208.2 M1129.7,204.2 L1129.7,208.2" stroke="#111" stroke-width="1.4" fill="none" />
<path d="M902,245 L928,230 L953.3,230 L1013,262" stroke="#111" stroke-width="1.8" fill="none" />
<path d="M906.0,245.1 L940.0,245.4 Q946.0,245.5 951.2,248.5 L999.6,276.1 Q1010.0,282.0 1016.0,287.0 L1016.0,287.0 Q1022.0,292.0 1026.1,303.3 L1029.0,311.0 Q1036.0,330.0 1043.8,359.0 L1054.9,400.3 Q1057.0,408.0 1052.0,412.0 L1051.7,412.3 Q1047.0,416.0 1041.3,414.3 L1010.4,405.0 Q997.0,401.0 984.7,394.2 L971.9,387.1 Q950.0,375.0 939.1,352.5 L916.5,305.5 Q910.0,292.0 904.4,278.1 L900.2,267.6 Q898.0,262.0 898.0,256.0 L898.0,253.0 Q898.0,245.0 906.0,245.1 Z" stroke="#111" stroke-width="1.9" fill="#fdfdfd" />
<ellipse cx="915" cy="266.7" rx="7" ry="10" stroke="#111" stroke-width="1.8" fill="none" transform="rotate(-25 915 266.7)"/>
<ellipse cx="1039.2" cy="390.8" rx="7" ry="10" stroke="#111" stroke-width="1.8" fill="none" transform="rotate(-25 1039.2 390.8)"/>
<path d="M943.5,257.0 C944.7,255.8 946.2,254.2 950.0,255.5 C953.8,256.8 962.7,262.1 966.0,265.0 C969.3,267.9 965.3,268.2 970.0,273.0 C974.7,277.8 989.0,289.7 994.0,294.0 C999.0,298.3 998.2,299.2 1000.0,299.0 C1001.8,298.8 1003.0,293.5 1005.0,293.0 C1007.0,292.5 1010.3,293.8 1012.0,296.0 C1013.7,298.2 1015.5,303.2 1015.0,306.0 C1014.5,308.8 1009.0,309.0 1009.0,313.0 C1009.0,317.0 1013.0,323.0 1015.0,330.0 C1017.0,337.0 1020.3,348.3 1021.0,355.0 C1021.7,361.7 1020.7,365.7 1019.0,370.0 C1017.3,374.3 1014.2,378.7 1011.0,381.0 C1007.8,383.3 1004.3,384.2 1000.0,384.0 C995.7,383.8 991.7,382.7 985.0,380.0 C978.3,377.3 967.2,373.8 960.0,368.0 C952.8,362.2 946.3,353.0 942.0,345.0 C937.7,337.0 935.3,327.5 934.0,320.0 C932.7,312.5 933.3,305.7 934.0,300.0 C934.7,294.3 936.0,290.2 938.0,286.0 C940.0,281.8 945.2,278.8 946.0,275.0 C946.8,271.2 943.4,266.0 943.0,263.0 C942.6,260.0 942.3,258.2 943.5,257.0 Z" stroke="#111" stroke-width="2" fill="none" />
<path d="M946.0,276.0 C945.0,277.7 941.5,282.0 940.0,286.0 C938.5,290.0 937.3,293.5 937.0,300.0 C936.7,306.5 936.5,317.5 938.0,325.0 C939.5,332.5 941.8,338.3 946.0,345.0 C950.2,351.7 955.7,359.5 963.0,365.0 C970.3,370.5 982.8,375.3 990.0,378.0 C997.2,380.7 1003.3,380.5 1006.0,381.0" stroke="#111" stroke-width="1.8" fill="none" />
<path d="M941,288 L941,315" stroke="#111" stroke-width="3" fill="none" />
<path d="M942,286 L967,273" stroke="#111" stroke-width="1.8" fill="none" />
<path d="M942,315 Q954,320 956,330 L956,350 L1004,325 L1015,306" stroke="#111" stroke-width="1.8" fill="none" />
<path d="M957,353 L1005,328" stroke="#111" stroke-width="1.6" fill="none" />
<path d="M1004,325 L1016,328" stroke="#111" stroke-width="1.6" fill="none" />
<path d="M1007,359 L1007,384 M1007,359 L1020,351" stroke="#111" stroke-width="1.8" fill="none" />
<path d="M960,354 L1007,380" stroke="#111" stroke-width="1.6" fill="none" />
<path d="M946,313 L977,295 M959,322 L994,300" stroke="#111" stroke-width="1.8" fill="none" />
<path d="M980,284 L980,292 L993,292" stroke="#111" stroke-width="1.6" fill="none" />
<g class="t"><text x="1053.50" y="105.25">2</text><text x="774.60" y="552.75">3</text><text x="471.40" y="593.00">4</text><text x="282.10" y="685.90">5</text><text x="2.90" y="675.90">6</text><path d=" M1466.40,335.00 L1462.89,335.00 L1462.89,312.60 C1462.05,313.40 1460.93,314.20 1459.57,315.00 C1458.20,315.80 1456.97,316.41 1455.86,316.82 L1455.86,313.42 C1457.83,312.50 1459.55,311.37 1461.01,310.08 C1462.48,308.79 1463.53,307.66 1464.14,306.88 L1466.40,306.88 Z"/><text x="1473.75" y="335.00">5</text><text x="107.90" y="1268.40">7</text><text x="534.75" y="1086.50">6</text><path d=" M969.40,942.80 L965.89,942.80 L965.89,920.40 C965.05,921.20 963.93,922.00 962.57,922.80 C961.20,923.60 959.97,924.21 958.86,924.62 L958.86,921.22 C960.83,920.30 962.55,919.17 964.01,917.88 C965.48,916.59 966.53,915.46 967.14,914.67 L969.40,914.67 Z"/><text x="976.75" y="942.80">2</text><path d=" M1018.90,1140.80 L1015.39,1140.80 L1015.39,1118.40 C1014.55,1119.20 1013.43,1120.00 1012.07,1120.80 C1010.70,1121.60 1009.47,1122.21 1008.36,1122.62 L1008.36,1119.22 C1010.33,1118.30 1012.05,1117.17 1013.51,1115.88 C1014.98,1114.59 1016.03,1113.46 1016.64,1112.67 L1018.90,1112.67 Z"/><path d=" M1041.15,1140.80 L1037.63,1140.80 L1037.63,1118.40 C1036.79,1119.20 1035.68,1120.00 1034.31,1120.80 C1032.95,1121.60 1031.71,1122.21 1030.60,1122.62 L1030.60,1119.22 C1032.57,1118.30 1034.29,1117.17 1035.76,1115.88 C1037.22,1114.59 1038.28,1113.46 1038.88,1112.67 L1041.15,1112.67 Z"/><path d=" M1686.20,745.70 L1682.69,745.70 L1682.69,723.30 C1681.85,724.10 1680.73,724.90 1679.37,725.70 C1678.00,726.50 1676.77,727.11 1675.66,727.52 L1675.66,724.12 C1677.63,723.20 1679.35,722.07 1680.81,720.78 C1682.28,719.49 1683.33,718.36 1683.94,717.58 L1686.20,717.58 Z"/><text x="1693.55" y="745.70">3</text><text x="1583.50" y="1125.25">6</text><path d=" M1468.60,1219.30 L1465.09,1219.30 L1465.09,1196.90 C1464.25,1197.70 1463.13,1198.50 1461.77,1199.30 C1460.40,1200.10 1459.17,1200.71 1458.06,1201.12 L1458.06,1197.72 C1460.03,1196.80 1461.75,1195.67 1463.21,1194.38 C1464.68,1193.09 1465.73,1191.96 1466.34,1191.17 L1468.60,1191.17 Z"/><text x="1475.95" y="1219.30">4</text><text x="963.90" y="1396.50">6</text><text x="1258.50" y="1498.00">7</text></g>
</svg>
</div></body></html>
